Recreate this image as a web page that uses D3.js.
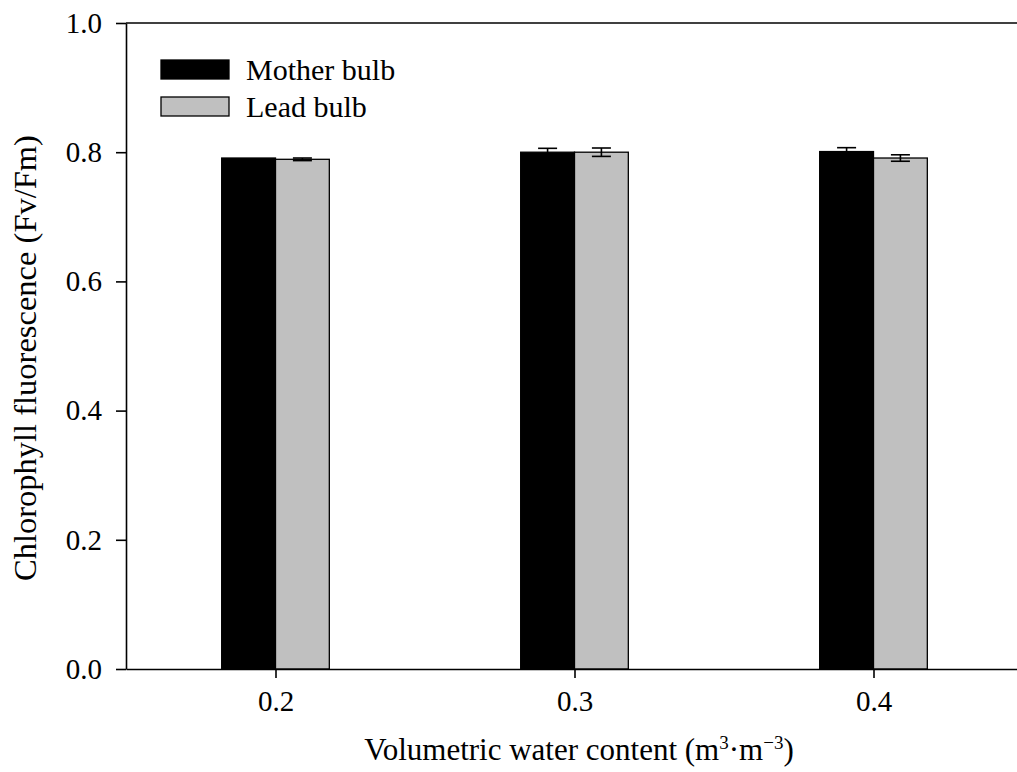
<!DOCTYPE html>
<html lang="en">
<head>
    <meta charset="UTF-8">
    <title>Chlorophyll fluorescence</title>
    <style>
        html, body {
            margin: 0;
            padding: 0;
            background-color: #fff;
        }
        svg text {
            font-family: 'Liberation Serif', 'Times New Roman', serif;
            fill: #000;
        }
    </style>
</head>
<body>
    <div id="graph"></div>
    <script src="https://d3js.org/d3.v7.min.js"></script>
    <script>
        const categories = [0.2, 0.3, 0.4];
        const seriesNames = ["Mother bulb", "Lead bulb"];
        const mother = [0.791, 0.800, 0.801];
        const motherErr = [0, 0.006, 0.006];
        const lead = [0.789, 0.800, 0.791];
        const leadErr = [0.002, 0.0065, 0.005];
        const yTicks = [0.0, 0.2, 0.4, 0.6, 0.8, 1.0];

        const width = 1017, height = 772;
        const colours = ["#000000", "#c0c0c0"];

        const svg = d3.select("#graph")
            .append("svg")
            .attr("width", width)
            .attr("height", height);

        const x = d3.scaleLinear().domain([0.15, 0.45]).range([126, 1023]);
        const y = d3.scaleLinear().domain([0, 1]).range([669, 23]);
        const barW = x(0.218) - x(0.2);

        const series = [
            {name: seriesNames[0], values: mother, err: motherErr, offset: -1},
            {name: seriesNames[1], values: lead, err: leadErr, offset: 0}
        ];

        // BARS
        series.forEach((s, k) => {
            svg.append("g")
                .selectAll("rect")
                .data(categories)
                .enter()
                .append("rect")
                .attr("x", (d) => x(d) + s.offset * barW)
                .attr("y", (d, i) => y(s.values[i]))
                .attr("width", barW)
                .attr("height", (d, i) => y(0) - y(s.values[i]))
                .style("fill", colours[k])
                .style("stroke", "#000")
                .style("stroke-width", 1.3);
        });

        // ERROR BARS
        series.forEach((s) => {
            const g = svg.append("g")
                .style("stroke", "#000")
                .style("stroke-width", 1.6);
            categories.forEach((c, i) => {
                if (s.err[i] <= 0) return;
                const cx = x(c) + s.offset * barW + barW / 2;
                const hi = y(s.values[i] + s.err[i]);
                const lo = y(s.values[i] - s.err[i]);
                g.append("line").attr("x1", cx).attr("x2", cx).attr("y1", hi).attr("y2", lo);
                g.append("line").attr("x1", cx - 9.5).attr("x2", cx + 9.5).attr("y1", hi).attr("y2", hi);
                g.append("line").attr("x1", cx - 9.5).attr("x2", cx + 9.5).attr("y1", lo).attr("y2", lo);
            });
        });

        // AXES
        const yAxis = d3.axisLeft(y)
            .tickValues(yTicks)
            .tickSize(10)
            .tickSizeOuter(0)
            .tickPadding(14)
            .tickFormat(d3.format(".1f"));

        const xAxis = d3.axisBottom(x)
            .tickValues(categories)
            .tickSize(9)
            .tickSizeOuter(0)
            .tickPadding(12)
            .tickFormat(d3.format(".1f"));

        const gy = svg.append("g")
            .attr("transform", "translate(126,0)")
            .call(yAxis);

        const gx = svg.append("g")
            .attr("transform", "translate(0,669)")
            .call(xAxis);

        [gx, gy].forEach((g) => {
            g.selectAll("path, line").style("stroke", "#000").style("stroke-width", 1.6);
            g.selectAll("text")
                .style("font-family", "'Liberation Serif', serif")
                .style("font-size", "29px")
                .style("fill", "#000");
        });

        // TOP FRAME LINE
        svg.append("line")
            .attr("x1", x.range()[0])
            .attr("x2", x.range()[1])
            .attr("y1", y(1))
            .attr("y2", y(1))
            .style("stroke", "#000")
            .style("stroke-width", 1.6);

        // AXIS TITLES
        const xt = svg.append("text")
            .attr("x", 579)
            .attr("y", 760)
            .attr("text-anchor", "middle")
            .style("font-size", "31px");
        xt.append("tspan").text("Volumetric water content (m");
        xt.append("tspan").text("3").attr("dy", -11).style("font-size", "19px");
        xt.append("tspan").text("·m").attr("dy", 11);
        xt.append("tspan").text("−3").attr("dy", -11).style("font-size", "19px");
        xt.append("tspan").text(")").attr("dy", 11);

        svg.append("text")
            .attr("transform", "translate(36,358) rotate(-90)")
            .attr("text-anchor", "middle")
            .style("font-size", "32.5px")
            .text("Chlorophyll fluorescence (Fv/Fm)");

        // LEGEND
        const legend = svg.append("g").attr("transform", "translate(161,60)");
        seriesNames.forEach((name, k) => {
            legend.append("rect")
                .attr("x", 0)
                .attr("y", k * 37)
                .attr("width", 68)
                .attr("height", 19)
                .style("fill", colours[k])
                .style("stroke", "#000")
                .style("stroke-width", 1.3);
            legend.append("text")
                .attr("x", 85)
                .attr("y", k * 37 + 20)
                .style("font-size", "30px")
                .text(name);
        });
    </script>
</body>
</html>
